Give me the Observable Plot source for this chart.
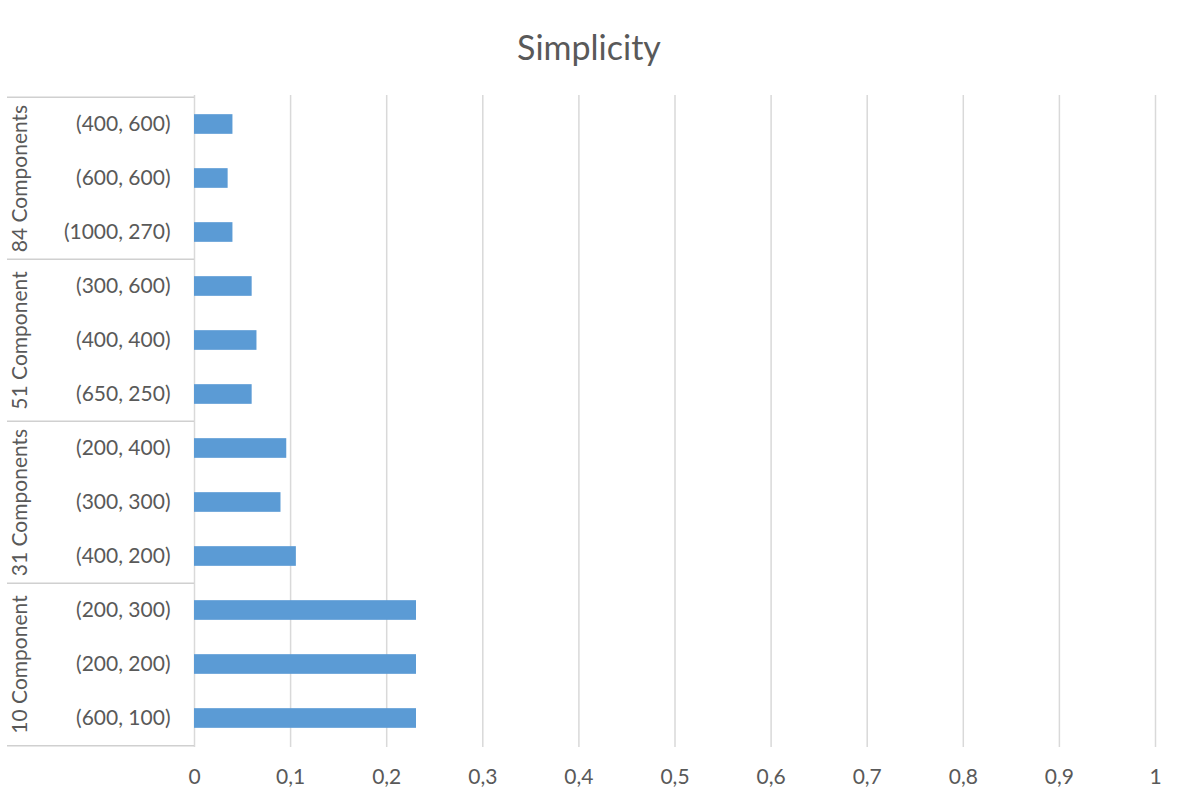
<!DOCTYPE html>
<html><head><meta charset="utf-8">
<script src="https://cdn.jsdelivr.net/npm/d3@7"></script>
<script src="https://cdn.jsdelivr.net/npm/@observablehq/plot@0.6"></script>
<style>
body{margin:0;background:#fff;font-family:Lato,sans-serif;}
#title{height:70px;box-sizing:border-box;padding-top:27px;text-align:center;font-size:34px;line-height:40px;color:#595959;}
</style></head><body>
<div id="title">Simplicity</div>
<div id="chart"></div>
<script>
// Data (top to bottom)
const groups = ["84 Components", "51 Component", "31 Components", "10 Component"];
const categories = ["(400, 600)", "(600, 600)", "(1000, 270)",
                    "(300, 600)", "(400, 400)", "(650, 250)",
                    "(200, 400)", "(300, 300)", "(400, 200)",
                    "(200, 300)", "(200, 200)", "(600, 100)"];
const categoryGroup = [0,0,0, 1,1,1, 2,2,2, 3,3,3];
const values = [0.040, 0.035, 0.040,
                0.060, 0.065, 0.060,
                0.096, 0.090, 0.106,
                0.231, 0.231, 0.231];
const xTicks = [0, 0.1, 0.2, 0.3, 0.4, 0.5, 0.6, 0.7, 0.8, 0.9, 1];

const rows = categories.map((c, i) => ({key: groups[categoryGroup[i]] + "|" + c, label: c, value: values[i], group: categoryGroup[i]}));
const keys = rows.map(d => d.key);

// group label positioned on the middle row of each group; boundaries at first row of each group + end
const groupLabels = groups.map((g, gi) => {
  const r = rows.filter(d => d.group === gi);
  return {key: r[Math.floor(r.length / 2)].key, name: g};
});
const groupStarts = groups.map((g, gi) => rows.find(d => d.group === gi).key);
const lastKey = keys[keys.length - 1];

const W = 1178, H = 722, mL = 194, mR = 23, mT = 25, mB = 45;
const step = (H - mT - mB) / keys.length;
const barThickness = 20;
const inset = (step - barThickness) / 2;
const textColor = "#595959";
const fontSize = 21;

const chart = Plot.plot({
  width: W, height: H,
  marginLeft: mL, marginRight: mR, marginTop: mT, marginBottom: mB,
  style: {fontFamily: "Lato, sans-serif", fontSize: fontSize + "px", color: textColor, background: "#fff"},
  x: {domain: [0, 1], ticks: xTicks, tickSize: 0, tickPadding: 22,
      tickFormat: d => String(d).replace(".", ","), label: null},
  y: {domain: keys, padding: 0, tickSize: 0, tickPadding: 24,
      tickFormat: k => k.split("|")[1], label: null},
  marks: [
    Plot.ruleX(xTicks, {stroke: "#d9d9d9", strokeWidth: 1.5}),
    Plot.barX(rows, {y: "key", x: "value", fill: "#5b9bd5", insetTop: inset, insetBottom: inset}),
    // group separator lines of the category box
    Plot.ruleY(groupStarts, {y: d => d, dy: -step / 2, stroke: "#d0d0d0", strokeWidth: 1.5,
      insetLeft: -(mL - 7), insetRight: W - mL - mR}),
    Plot.ruleY([lastKey], {y: d => d, dy: step / 2, stroke: "#d0d0d0", strokeWidth: 1.5,
      insetLeft: -(mL - 7), insetRight: W - mL - mR}),
    Plot.text(groupLabels, {y: "key", text: "name", frameAnchor: "left", dx: -(mL - 20),
      rotate: -90, textAnchor: "middle", fill: textColor, fontSize: fontSize})
  ]
});
document.getElementById("chart").appendChild(chart);
</script>
</body></html>
